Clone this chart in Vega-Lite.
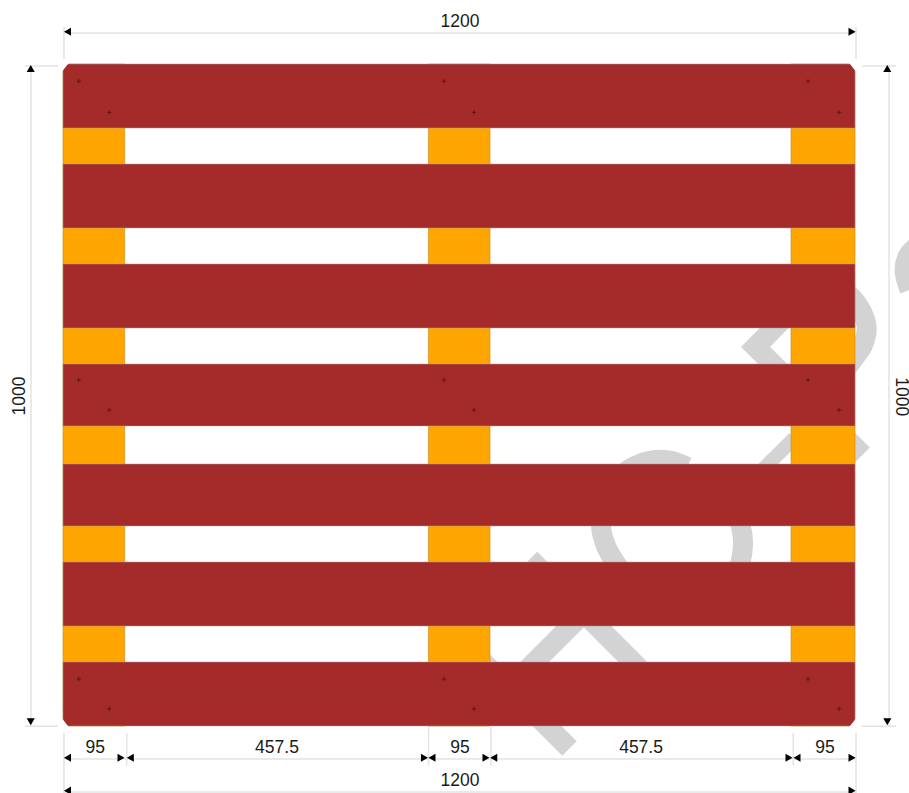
{
"$schema":"https://vega.github.io/schema/vega-lite/v6.json",
"width":909,"height":793,"padding":0,"autosize":{"type":"none"},"background":"white",
"config":{"view":{"stroke":null},"font":"Liberation Sans"},
"encoding":{
 "x":{"field":"x","type":"quantitative","axis":null,"scale":{"domain":[-95.45,1281.8],"nice":false,"zero":false}},
 "y":{"field":"y","type":"quantitative","axis":null,"scale":{"domain":[-96.68,1101.2],"nice":false,"zero":false,"reverse":true}}
},
"layer":[
{"data":{"values":[
 {"s":"a","i":1,"x":707.6,"y":747.7},{"s":"a","i":2,"x":914.7,"y":954.7},
 {"s":"c","i":1,"x":767.4,"y":1034},{"s":"c","i":2,"x":593.9,"y":861},
 {"s":"b","i":1,"x":675.5,"y":942.3},{"s":"b","i":2,"x":788.9,"y":829.3},
 {"s":"v","i":1,"x":1101.5,"y":374.6},{"s":"v","i":2,"x":1049.2,"y":427.5},{"s":"v","i":3,"x":1093.9,"y":471.3},
 {"s":"e","i":1,"x":1211.5,"y":568.3},{"s":"e","i":2,"x":1131.8,"y":648}
 ]},
 "mark":{"type":"line","stroke":"#d3d3d3","strokeWidth":20.5,"strokeCap":"butt","strokeJoin":"miter"},
 "encoding":{"detail":{"field":"s"},"order":{"field":"i"}}},
{"data":{"values":[
 {"s":"o","i":1,"x":945.5,"y":608.8},{"s":"o","i":2,"x":922.7,"y":599.7},{"s":"o","i":3,"x":898.5,"y":598.2},{"s":"o","i":4,"x":861.1,"y":610.3},{"s":"o","i":5,"x":840.9,"y":628.4},{"s":"o","i":6,"x":822.7,"y":658.6},{"s":"o","i":7,"x":815.2,"y":697.9},{"s":"o","i":8,"x":822.7,"y":728.1},{"s":"o","i":9,"x":836.4,"y":752.3},{"s":"o","i":10,"x":866.7,"y":791.5},{"s":"o","i":11,"x":904.5,"y":815.7},{"s":"o","i":12,"x":950,"y":818.7},{"s":"o","i":13,"x":995.5,"y":797.6},{"s":"o","i":14,"x":1021.2,"y":767.4},{"s":"o","i":15,"x":1030.3,"y":726.6},{"s":"o","i":16,"x":1027.3,"y":699.4},{"s":"o","i":17,"x":1015.2,"y":666.2},
 {"s":"r","i":1,"x":1154.5,"y":329.3},{"s":"r","i":2,"x":1189.4,"y":347.4},{"s":"r","i":3,"x":1210.6,"y":374.6},{"s":"r","i":4,"x":1217.7,"y":398.8},{"s":"r","i":5,"x":1212.1,"y":424.5},{"s":"r","i":6,"x":1200,"y":442.6},{"s":"r","i":7,"x":1189.4,"y":456.2},{"s":"r","i":8,"x":1162.1,"y":483.4},
 {"s":"t","i":1,"x":1282.7,"y":341.4},{"s":"t","i":2,"x":1275,"y":311.2},{"s":"t","i":3,"x":1280.3,"y":290},{"s":"t","i":4,"x":1292.4,"y":276.4},{"s":"t","i":5,"x":1313.6,"y":262.8}
 ]},
 "mark":{"type":"line","stroke":"#d3d3d3","strokeWidth":20,"strokeCap":"butt","interpolate":"catmull-rom"},
 "encoding":{"detail":{"field":"s"},"order":{"field":"i"}}},
{"data":{"values":[{"s":"d","i":1,"x":1056.1,"y":616.3},{"s":"d","i":2,"x":1108,"y":565.4}]},
 "mark":{"type":"line","stroke":"#d3d3d3","strokeWidth":14,"strokeCap":"butt"},
 "encoding":{"detail":{"field":"s"},"order":{"field":"i"}}},
{"data":{"values":[
 {"x":0,"x2":93.5,"y":0,"y2":1000},{"x":553.6,"x2":647,"y":0,"y2":1000},{"x":1103,"x2":1200,"y":0,"y2":1000}]},
 "mark":{"type":"rect","fill":"#ffa500","stroke":"#c98a1e","strokeWidth":0.6},
 "encoding":{"x2":{"field":"x2"},"y2":{"field":"y2"}}},
{"data":{"values":[
 {"x":0,"x2":1200,"y":0,"y2":96.7},{"x":0,"x2":1200,"y":151.1,"y2":247.7},{"x":0,"x2":1200,"y":302.1,"y2":398.8},{"x":0,"x2":1200,"y":453.2,"y2":546.8},{"x":0,"x2":1200,"y":604.2,"y2":697.9},{"x":0,"x2":1200,"y":752.3,"y2":849},{"x":0,"x2":1200,"y":903.3,"y2":1000}]},
 "mark":{"type":"rect","fill":"#a52a2a","stroke":"#a0a0a0","strokeWidth":0.5},
 "encoding":{"x2":{"field":"x2"},"y2":{"field":"y2"}}},
{"data":{"values":[
 {"c":"tl","x":-2,"y":-2,"y2":12},{"c":"tl","x":8.5,"y":-2,"y2":-1},
 {"c":"tr","x":1191.5,"y":-2,"y2":-1},{"c":"tr","x":1202,"y":-2,"y2":12},
 {"c":"bl","x":-2,"y":988,"y2":1002},{"c":"bl","x":8.5,"y":1001,"y2":1002},
 {"c":"br","x":1191.5,"y":1001,"y2":1002},{"c":"br","x":1202,"y":988,"y2":1002}]},
 "mark":{"type":"area","fill":"white","orient":"vertical"},
 "encoding":{"y2":{"field":"y2"},"detail":{"field":"c"}}},
{"data":{"values":[
 {"x":23.8,"y":26.1},{"x":70.2,"y":73},{"x":577,"y":26.1},{"x":622.7,"y":73},{"x":1128.8,"y":26.1},{"x":1175.8,"y":73},
 {"x":23.8,"y":477.3},{"x":70.2,"y":522.7},{"x":577,"y":477.3},{"x":622.7,"y":522.7},{"x":1128.8,"y":477.3},{"x":1175.8,"y":522.7},
 {"x":23.8,"y":929},{"x":70.2,"y":974},{"x":577,"y":929},{"x":622.7,"y":974},{"x":1128.8,"y":929},{"x":1175.8,"y":974}]},
 "mark":{"type":"point","shape":"M-1,0L1,0M0,-1L0,1","size":20,"stroke":"#4a1010","strokeWidth":0.7,"filled":false,"opacity":1}},
{"data":{"values":[
 {"x":1.5,"y":-46.8,"x2":1201.5,"y2":-46.8},{"x":1.5,"y":-55.9,"x2":1.5,"y2":-7.6},{"x":1201.5,"y":-55.9,"x2":1201.5,"y2":-7.6},
 {"x":-48.5,"y":3,"x2":-48.5,"y2":1000},{"x":-57.6,"y":3,"x2":-7.6,"y2":3},{"x":-57.6,"y":1000.5,"x2":-7.6,"y2":1000.5},
 {"x":1251.5,"y":3,"x2":1251.5,"y2":1000},{"x":1210.6,"y":3,"x2":1262.1,"y2":3},{"x":1210.6,"y":1000.5,"x2":1262.1,"y2":1000.5},
 {"x":1.5,"y":1049.9,"x2":1201.5,"y2":1049.9},{"x":1.5,"y":1099.7,"x2":1201.5,"y2":1099.7},
 {"x":1.5,"y":1010.6,"x2":1.5,"y2":1101.2},{"x":1201.5,"y":1010.6,"x2":1201.5,"y2":1101.2},
 {"x":96.5,"y":1010.6,"x2":96.5,"y2":1059.7},{"x":1106.5,"y":1010.6,"x2":1106.5,"y2":1059.7},
 {"x":553.8,"y":1001,"x2":553.8,"y2":1059.7},{"x":648.5,"y":1001,"x2":648.5,"y2":1059.7}]},
 "mark":{"type":"rule","stroke":"#e3e3e3","strokeWidth":1.5},
 "encoding":{"x2":{"field":"x2"},"y2":{"field":"y2"}}},
{"data":{"values":[
 {"x":6.8,"y":-48.8,"dir":"left"},{"x":1195.5,"y":-48.8,"dir":"right"},
 {"x":-48.9,"y":6.8,"dir":"up"},{"x":-48.9,"y":993.5,"dir":"down"},
 {"x":1248.9,"y":6.8,"dir":"up"},{"x":1248.9,"y":993.5,"dir":"down"},
 {"x":6.8,"y":1047.9,"dir":"left"},{"x":87.9,"y":1047.9,"dir":"right"},{"x":102,"y":1047.9,"dir":"left"},{"x":547.7,"y":1047.9,"dir":"right"},{"x":559.1,"y":1047.9,"dir":"left"},{"x":640.9,"y":1047.9,"dir":"right"},{"x":652.6,"y":1047.9,"dir":"left"},{"x":1100,"y":1047.9,"dir":"right"},{"x":1112.1,"y":1047.9,"dir":"left"},{"x":1195.5,"y":1047.9,"dir":"right"},
 {"x":6.8,"y":1097.7,"dir":"left"},{"x":1195.5,"y":1097.7,"dir":"right"}]},
 "mark":{"type":"point","filled":true,"fill":"black","size":66,"opacity":1},
 "encoding":{"shape":{"field":"dir","type":"nominal","legend":null,"scale":{"domain":["left","right","up","down"],"range":["triangle-left","triangle-right","triangle-up","triangle-down"]}}}},
{"data":{"values":[
 {"x":601.5,"y":-64,"t":"1200"},
 {"x":48.9,"y":1032.5,"t":"95"},{"x":324.2,"y":1032.5,"t":"457.5"},{"x":601.5,"y":1032.5,"t":"95"},{"x":875.8,"y":1032.5,"t":"457.5"},{"x":1154.5,"y":1032.5,"t":"95"},
 {"x":601.5,"y":1083,"t":"1200"}]},
 "mark":{"type":"text","font":"Liberation Sans","fontSize":17.5,"fill":"#1a1a1a","align":"center","baseline":"middle"},
 "encoding":{"text":{"field":"t"}}},
{"data":{"values":[{"x":-65.5,"y":501.5,"t":"1000"}]},
 "mark":{"type":"text","font":"Liberation Sans","fontSize":17.5,"fill":"#1a1a1a","align":"center","baseline":"middle","angle":270},
 "encoding":{"text":{"field":"t"}}},
{"data":{"values":[{"x":1269.2,"y":502.6,"t":"1000"}]},
 "mark":{"type":"text","font":"Liberation Sans","fontSize":17.5,"fill":"#1a1a1a","align":"center","baseline":"middle","angle":90},
 "encoding":{"text":{"field":"t"}}}
]
}
